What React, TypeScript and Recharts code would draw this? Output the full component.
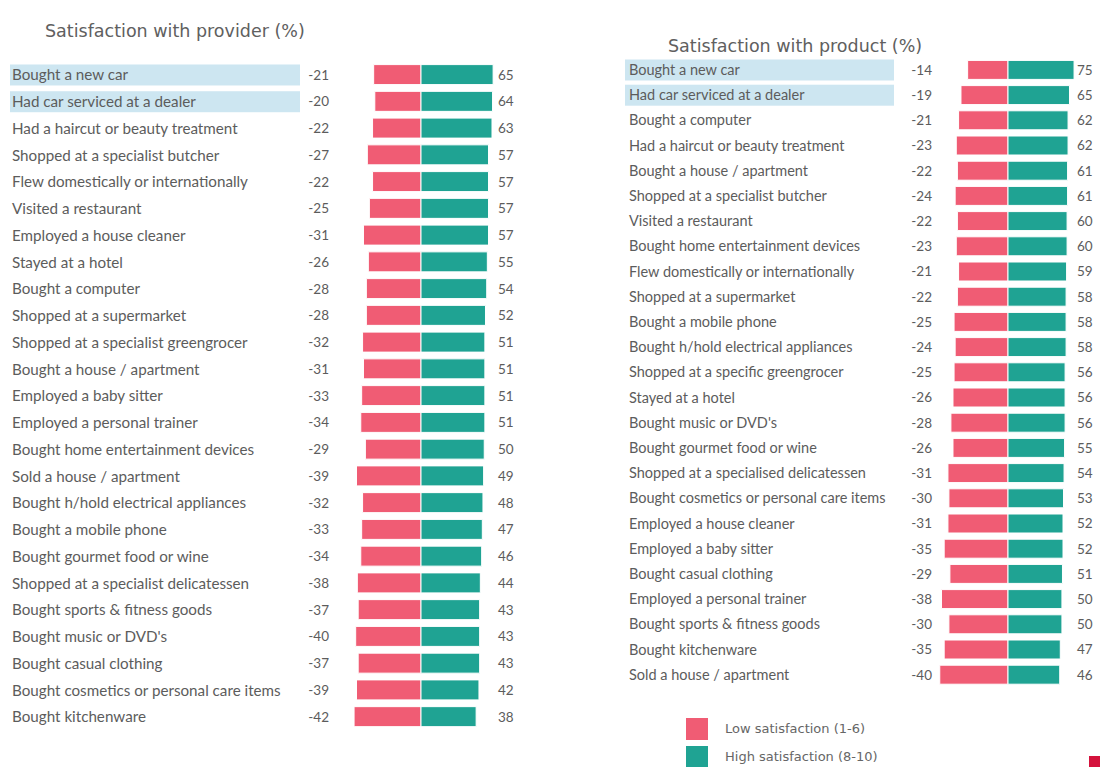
import { BarChart, Bar, XAxis, YAxis } from 'recharts';

const LOW = '#f05c74';
const HIGH = '#1fa393';
const HILITE = '#cde6f1';
const TEXT = '#5c5c5c';

const providerCategories = [
  'Bought a new car',
  'Had car serviced at a dealer',
  'Had a haircut or beauty treatment',
  'Shopped at a specialist butcher',
  'Flew domestically or internationally',
  'Visited a restaurant',
  'Employed a house cleaner',
  'Stayed at a hotel',
  'Bought a computer',
  'Shopped at a supermarket',
  'Shopped at a specialist greengrocer',
  'Bought a house / apartment',
  'Employed a baby sitter',
  'Employed a personal trainer',
  'Bought home entertainment devices',
  'Sold a house / apartment',
  'Bought h/hold electrical appliances',
  'Bought a mobile phone',
  'Bought gourmet food or wine',
  'Shopped at a specialist delicatessen',
  'Bought sports & fitness goods',
  "Bought music or DVD's",
  'Bought casual clothing',
  'Bought cosmetics or personal care items',
  'Bought kitchenware',
];
const providerLow = [-21, -20, -22, -27, -22, -25, -31, -26, -28, -28, -32, -31, -33, -34, -29, -39, -32, -33, -34, -38, -37, -40, -37, -39, -42];
const providerHigh = [65, 64, 63, 57, 57, 57, 57, 55, 54, 52, 51, 51, 51, 51, 50, 49, 48, 47, 46, 44, 43, 43, 43, 42, 38];

const productCategories = [
  'Bought a new car',
  'Had car serviced at a dealer',
  'Bought a computer',
  'Had a haircut or beauty treatment',
  'Bought a house / apartment',
  'Shopped at a specialist butcher',
  'Visited a restaurant',
  'Bought home entertainment devices',
  'Flew domestically or internationally',
  'Shopped at a supermarket',
  'Bought a mobile phone',
  'Bought h/hold electrical appliances',
  'Shopped at a specific greengrocer',
  'Stayed at a hotel',
  "Bought music or DVD's",
  'Bought gourmet food or wine',
  'Shopped at a specialised delicatessen',
  'Bought cosmetics or personal care items',
  'Employed a house cleaner',
  'Employed a baby sitter',
  'Bought casual clothing',
  'Employed a personal trainer',
  'Bought sports & fitness goods',
  'Bought kitchenware',
  'Sold a house / apartment',
];
const productLow = [-14, -19, -21, -23, -22, -24, -22, -23, -21, -22, -25, -24, -25, -26, -28, -26, -31, -30, -31, -35, -29, -38, -30, -35, -40];
const productHigh = [75, 65, 62, 62, 61, 61, 60, 60, 59, 58, 58, 58, 56, 56, 56, 55, 54, 53, 52, 52, 51, 50, 50, 47, 46];

const highlighted = 2; // first rows get the blue box

type Row = { name: string; low: number; high: number };

const toRows = (cats: string[], low: number[], high: number[]): Row[] =>
  cats.map((name, i) => ({ name, low: low[i], high: high[i] }));

type PanelCfg = {
  top: number;
  bottom: number;
  axisWidth: number;
  right: number;
  lowDomain: [number, number];
  highDomain: [number, number];
  barSize: number;
  labelX: number;
  boxX: number;
  boxW: number;
  negX: number;
  posX: number;
  fontSize: number;
};

function Panel({ rows, cfg }: { rows: Row[]; cfg: PanelCfg }) {
  const renderTick = (props: any) => {
    const { y, payload } = props;
    const i = props.index ?? payload.index;
    const r = rows[i] ?? rows.find((d) => d.name === payload.value);
    const font = { fontFamily: 'Lato', fill: TEXT };
    return (
      <g>
        {i < highlighted && (
          <rect x={cfg.boxX} y={y - 10.5} width={cfg.boxW} height={21} fill={HILITE} />
        )}
        <text x={cfg.labelX} y={y} dy="0.35em" fontSize={cfg.fontSize} {...font}>
          {payload.value}
        </text>
        <text x={cfg.negX} y={y} dy="0.35em" fontSize={13.5} textAnchor="end" {...font}>
          {r.low}
        </text>
        <text x={cfg.posX} y={y} dy="0.35em" fontSize={13.5} textAnchor="start" {...font}>
          {r.high}
        </text>
      </g>
    );
  };

  return (
    <BarChart
      width={550}
      height={767}
      data={rows}
      layout="vertical"
      margin={{ top: cfg.top, bottom: cfg.bottom, left: 0, right: cfg.right }}
    >
      <XAxis xAxisId="low" type="number" scale="sqrt" domain={cfg.lowDomain} hide />
      <XAxis xAxisId="high" type="number" scale="sqrt" domain={cfg.highDomain} hide />
      <YAxis
        dataKey="name"
        type="category"
        width={cfg.axisWidth}
        axisLine={false}
        tickLine={false}
        interval={0}
        tick={renderTick}
      />
      <Bar
        dataKey="low"
        name="Low satisfaction (1-6)"
        xAxisId="low"
        stackId="s"
        fill={LOW}
        stroke="#ffffff"
        strokeWidth={1}
        barSize={cfg.barSize}
        isAnimationActive={false}
      />
      <Bar
        dataKey="high"
        name="High satisfaction (8-10)"
        xAxisId="high"
        stackId="s"
        fill={HIGH}
        stroke="#ffffff"
        strokeWidth={1}
        barSize={cfg.barSize}
        isAnimationActive={false}
      />
    </BarChart>
  );
}

const providerCfg: PanelCfg = {
  top: 61.6,
  bottom: 36.6,
  axisWidth: 341,
  right: 49,
  lowDomain: [-60, 60],
  highDomain: [-80, 80],
  barSize: 20,
  labelX: 12,
  boxX: 10,
  boxW: 290,
  negX: 329,
  posX: 498,
  fontSize: 15.2,
};

const productCfg: PanelCfg = {
  top: 57.4,
  bottom: 79.6,
  axisWidth: 378,
  right: 12,
  lowDomain: [-55, 55],
  highDomain: [-110, 110],
  barSize: 19,
  labelX: 79,
  boxX: 75,
  boxW: 269,
  negX: 382,
  posX: 527,
  fontSize: 14.5,
};

const titleStyle: React.CSSProperties = {
  position: 'absolute',
  fontFamily: 'DejaVu Sans',
  fontSize: 17.5,
  lineHeight: '18px',
  color: '#606060',
  whiteSpace: 'nowrap',
};

const legendText: React.CSSProperties = {
  position: 'absolute',
  left: 725,
  fontFamily: 'DejaVu Sans',
  fontSize: 13,
  lineHeight: '22px',
  color: '#666666',
  whiteSpace: 'nowrap',
};

export default function App() {
  const providerRows = toRows(providerCategories, providerLow, providerHigh);
  const productRows = toRows(productCategories, productLow, productHigh);
  return (
    <div
      style={{
        position: 'fixed',
        left: 0,
        top: 0,
        width: 1100,
        height: 767,
        overflow: 'hidden',
        background: '#ffffff',
      }}
    >
      <div style={{ ...titleStyle, left: 45, top: 22 }}>Satisfaction with provider (%)</div>
      <div style={{ ...titleStyle, left: 668, top: 37 }}>Satisfaction with product (%)</div>
      <div style={{ position: 'absolute', left: 0, top: 0 }}>
        <Panel rows={providerRows} cfg={providerCfg} />
      </div>
      <div style={{ position: 'absolute', left: 550, top: 0 }}>
        <Panel rows={productRows} cfg={productCfg} />
      </div>
      <div style={{ position: 'absolute', left: 686, top: 718, width: 22, height: 22, background: LOW }} />
      <div style={{ ...legendText, top: 718 }}>Low satisfaction (1-6)</div>
      <div style={{ position: 'absolute', left: 686, top: 746, width: 22, height: 22, background: HIGH }} />
      <div style={{ ...legendText, top: 746 }}>High satisfaction (8-10)</div>
      <div style={{ position: 'absolute', left: 1089, top: 756, width: 11, height: 14, background: '#d4123c' }} />
    </div>
  );
}
